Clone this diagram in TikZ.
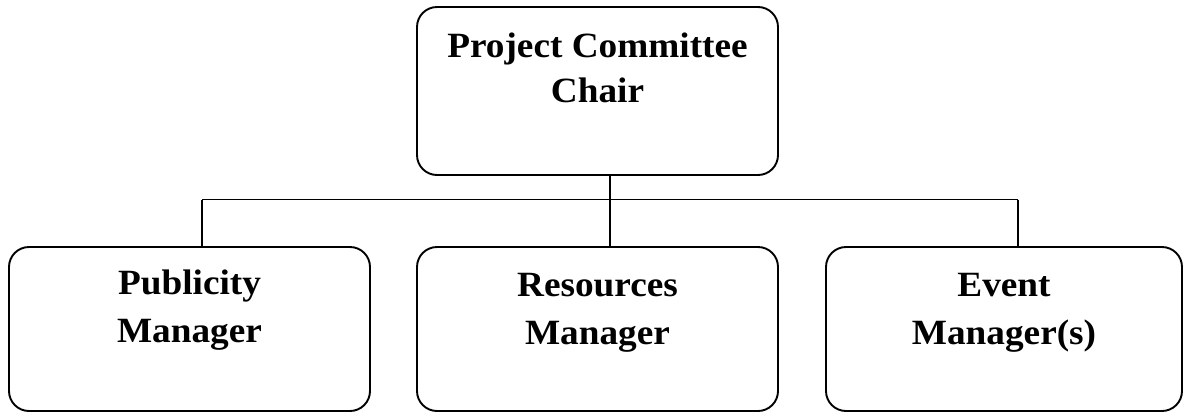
\documentclass[tikz,border=0pt]{standalone}
\usepackage{fontspec}
\setmainfont{Liberation Serif}[FakeStretch=1.05]
\begin{document}
\begin{tikzpicture}[x=1pt,y=-1pt,
  box/.style={draw, line width=1.9pt, rounded corners=20pt, inner sep=0pt},
  lbl/.style={align=center, font=\fontsize{35.5}{45}\selectfont\bfseries, anchor=base, inner sep=0pt},
  lblb/.style={lbl, font=\fontsize{35.5}{48}\selectfont\bfseries},
  conn/.style={line width=1.6pt}]
\useasboundingbox (0,0) rectangle (1184,413);
\node[box, minimum width=361pt, minimum height=168pt] (top) at (597.5,91) {};
\node[box, minimum width=361pt, minimum height=164pt] (left) at (189.5,329) {};
\node[box, minimum width=361pt, minimum height=164pt] (mid) at (597.5,329) {};
\node[box, minimum width=356pt, minimum height=164pt] (right) at (1004,329) {};
\node[lbl] (ttop) at (597.5,102) {Project Committee\\Chair};
\node[lblb] (tleft) at (189.5,342) {Publicity\\Manager};
\node[lblb] (tmid) at (597.5,344) {Resources\\Manager};
\node[lblb] (tright) at (1004,344) {Event\\Manager(s)};
\coordinate (j) at (610,199.5);
\coordinate (dl) at (202,199.5);
\coordinate (dr) at (1018,199.5);
\draw[conn] (top.south -| j) -- (j);
\draw[conn] (dl) -- (dr);
\draw[conn] (dl) -- (dl |- left.north);
\draw[conn] (j) -- (j |- mid.north);
\draw[conn] (dr) -- (dr |- right.north);
\end{tikzpicture}
\end{document}
